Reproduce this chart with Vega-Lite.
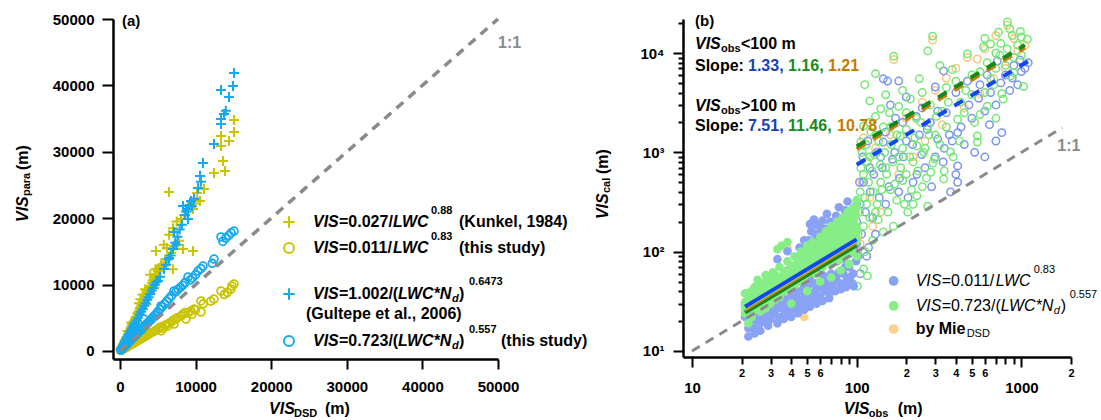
{
  "$schema": "https://vega.github.io/schema/vega-lite/v6.json",
  "padding": {"left": 14, "top": 12, "right": 0, "bottom": 0},
  "background": "white",
  "config": {
    "view": {"stroke": null},
    "font": "Liberation Sans",
    "text": {"font": "Liberation Sans", "color": "black"},
    "axis": {
      "grid": false,
      "domainColor": "black",
      "domainWidth": 2.5,
      "tickColor": "black",
      "tickWidth": 2,
      "labelFont": "Liberation Sans",
      "labelFontWeight": "bold",
      "labelFontSize": 15,
      "labelColor": "black",
      "labelFlush": false,
      "labelOverlap": false
    }
  },
  "datasets": {
    "kunkel": [
      {"x":100,"y":250},{"x":200,"y":480},{"x":300,"y":700},{"x":400,"y":980},{"x":500,"y":1150},{"x":600,"y":1500},{"x":700,"y":1650},{"x":800,"y":1950},{"x":900,"y":2100},{"x":1000,"y":2450},{"x":1000,"y":3000},{"x":1100,"y":2600},{"x":1200,"y":2950},{"x":1300,"y":3100},{"x":1400,"y":3400},{"x":1500,"y":3550},{"x":1500,"y":4300},{"x":1600,"y":3900},{"x":1700,"y":4100},{"x":1800,"y":4350},{"x":1900,"y":4500},{"x":2000,"y":4800},{"x":2000,"y":3800},{"x":2100,"y":5100},{"x":2200,"y":5200},{"x":2300,"y":5600},{"x":2400,"y":5800},{"x":2500,"y":6000},{"x":2500,"y":7200},{"x":2600,"y":6350},{"x":2700,"y":6500},{"x":2700,"y":7800},{"x":2800,"y":6800},{"x":2900,"y":7000},{"x":3000,"y":7300},{"x":3000,"y":8500},{"x":3100,"y":7400},{"x":3200,"y":7800},{"x":3300,"y":8000},{"x":3300,"y":9300},{"x":3400,"y":8200},{"x":3500,"y":8500},{"x":3500,"y":7000},{"x":3600,"y":8700},{"x":3700,"y":9000},{"x":3800,"y":9200},{"x":3900,"y":9500},{"x":4000,"y":9800},{"x":4000,"y":11500},{"x":4200,"y":10200},{"x":4300,"y":10600},{"x":4500,"y":11000},{"x":4500,"y":9500},{"x":4600,"y":11300},{"x":4800,"y":11600},{"x":5000,"y":12000},{"x":4700,"y":12300},{"x":5200,"y":12500},{"x":5400,"y":12800},{"x":5500,"y":13000},{"x":5800,"y":12800},{"x":6000,"y":13800},{"x":4760,"y":15060},{"x":5800,"y":16000},{"x":6200,"y":15500},{"x":6800,"y":14800},{"x":7000,"y":12300},{"x":7143,"y":15813},{"x":7800,"y":16600},{"x":8333,"y":15361},{"x":9656,"y":15060},{"x":6500,"y":17500},{"x":7000,"y":18500},{"x":7500,"y":19500},{"x":8069,"y":19880},{"x":8500,"y":20500},{"x":8700,"y":21000},{"x":9000,"y":21800},{"x":9656,"y":21386},{"x":9400,"y":22500},{"x":9800,"y":23000},{"x":9900,"y":22200},{"x":10200,"y":23800},{"x":10582,"y":22590},{"x":11111,"y":24397},{"x":6481,"y":23946},{"x":12434,"y":26807},{"x":13889,"y":27108},{"x":13624,"y":28614},{"x":13360,"y":30873},{"x":13360,"y":32380},{"x":14418,"y":31627},{"x":15079,"y":32982},{"x":15079,"y":34789}
    ],
    "gultepe": [
      {"x":100,"y":200},{"x":200,"y":420},{"x":300,"y":600},{"x":400,"y":850},{"x":500,"y":1000},{"x":600,"y":1250},{"x":700,"y":1450},{"x":800,"y":1700},{"x":900,"y":1850},{"x":1000,"y":2100},{"x":1100,"y":2250},{"x":1200,"y":2500},{"x":1300,"y":2700},{"x":1400,"y":2950},{"x":1500,"y":3100},{"x":1600,"y":3350},{"x":1700,"y":3500},{"x":1800,"y":3800},{"x":1900,"y":3950},{"x":2000,"y":4200},{"x":2200,"y":4600},{"x":2400,"y":5000},{"x":2600,"y":5500},{"x":2800,"y":5900},{"x":3000,"y":6300},{"x":3200,"y":6800},{"x":3400,"y":7200},{"x":3600,"y":7700},{"x":3800,"y":8100},{"x":4000,"y":8600},{"x":4200,"y":9100},{"x":4400,"y":9500},{"x":4600,"y":10000},{"x":4800,"y":10400},{"x":5026,"y":10542},{"x":5300,"y":11200},{"x":5820,"y":12349},{"x":6100,"y":13000},{"x":6400,"y":13800},{"x":6500,"y":14000},{"x":6700,"y":14400},{"x":7011,"y":15361},{"x":7500,"y":16000},{"x":7300,"y":16300},{"x":7600,"y":17200},{"x":7143,"y":17922},{"x":7900,"y":18300},{"x":8200,"y":19000},{"x":8600,"y":20500},{"x":8800,"y":21000},{"x":8995,"y":19880},{"x":9000,"y":21400},{"x":9200,"y":22000},{"x":8333,"y":21837},{"x":9400,"y":22600},{"x":9500,"y":21800},{"x":9788,"y":22892},{"x":10317,"y":24548},{"x":10582,"y":26355},{"x":10700,"y":25500},{"x":10979,"y":28313},{"x":12434,"y":31175},{"x":13360,"y":34187},{"x":13360,"y":34940},{"x":13757,"y":35693},{"x":14000,"y":36200},{"x":14418,"y":38253},{"x":13360,"y":39307},{"x":14947,"y":39910},{"x":15079,"y":41867}
    ],
    "oursLwc": [
      {"x":100,"y":70},{"x":200,"y":140},{"x":300,"y":210},{"x":400,"y":270},{"x":500,"y":340},{"x":600,"y":400},{"x":700,"y":470},{"x":800,"y":540},{"x":900,"y":600},{"x":1000,"y":660},{"x":1200,"y":800},{"x":1400,"y":930},{"x":1600,"y":1050},{"x":1800,"y":1200},{"x":2000,"y":1300},{"x":2200,"y":1450},{"x":2400,"y":1600},{"x":2600,"y":1700},{"x":2800,"y":1850},{"x":3000,"y":2000},{"x":3200,"y":2100},{"x":3400,"y":2250},{"x":3600,"y":2400},{"x":3800,"y":2500},{"x":4000,"y":2700},{"x":4200,"y":2800},{"x":4500,"y":2950},{"x":4700,"y":3100},{"x":5000,"y":3300},{"x":5423,"y":3012},{"x":5200,"y":3500},{"x":5500,"y":3700},{"x":5700,"y":3400},{"x":6000,"y":3900},{"x":6349,"y":3765},{"x":6500,"y":4200},{"x":6800,"y":4400},{"x":7143,"y":4066},{"x":7000,"y":4600},{"x":7300,"y":4800},{"x":7600,"y":5000},{"x":8069,"y":5271},{"x":8300,"y":5500},{"x":8730,"y":4819},{"x":8600,"y":5800},{"x":9000,"y":5700},{"x":9392,"y":6024},{"x":9788,"y":6325},{"x":9500,"y":5500},{"x":10000,"y":6200},{"x":10714,"y":5873},{"x":10714,"y":7530},{"x":11000,"y":7100},{"x":12434,"y":7831},{"x":12000,"y":7500},{"x":13360,"y":9036},{"x":14683,"y":9337},{"x":15079,"y":10090},{"x":14200,"y":8800},{"x":13800,"y":8500},{"x":14800,"y":9800}
    ],
    "oursNd": [
      {"x":100,"y":120},{"x":200,"y":230},{"x":300,"y":350},{"x":400,"y":460},{"x":500,"y":580},{"x":600,"y":690},{"x":700,"y":800},{"x":800,"y":920},{"x":900,"y":1030},{"x":1000,"y":1150},{"x":1200,"y":1380},{"x":1400,"y":1600},{"x":1600,"y":1840},{"x":1852,"y":2861},{"x":1800,"y":2050},{"x":2000,"y":2300},{"x":2200,"y":2550},{"x":2400,"y":2750},{"x":2600,"y":3000},{"x":2800,"y":3200},{"x":3000,"y":3450},{"x":3175,"y":4819},{"x":3200,"y":3700},{"x":3400,"y":3900},{"x":3600,"y":4150},{"x":3800,"y":4400},{"x":4000,"y":4600},{"x":4200,"y":4850},{"x":4400,"y":5100},{"x":4600,"y":5350},{"x":4800,"y":5600},{"x":5000,"y":5900},{"x":5423,"y":6777},{"x":5300,"y":6300},{"x":5600,"y":6700},{"x":5900,"y":7100},{"x":6200,"y":7500},{"x":6500,"y":7900},{"x":6800,"y":8300},{"x":7143,"y":9036},{"x":7400,"y":8900},{"x":7700,"y":9300},{"x":8000,"y":9600},{"x":8300,"y":9900},{"x":8600,"y":10300},{"x":8995,"y":11145},{"x":9300,"y":10700},{"x":9600,"y":11000},{"x":10000,"y":11500},{"x":10317,"y":12048},{"x":10979,"y":12801},{"x":10700,"y":12400},{"x":12434,"y":13855},{"x":12200,"y":13200},{"x":13360,"y":17169},{"x":13600,"y":16500},{"x":14000,"y":17000},{"x":14400,"y":17400},{"x":15079,"y":18072},{"x":14700,"y":17800}
    ],
    "oneToOneA": [{"x":0,"y":0},{"x":50000,"y":50000}],
    "oneToOneB": [{"x":10,"y":10},{"x":1770,"y":1770}],
    "fitLowBlue": [{"x":21,"y":27.93},{"x":100,"y":133}],
    "fitLowGreen": [{"x":21,"y":24.36},{"x":100,"y":116}],
    "fitLowOrange": [{"x":21,"y":25.41},{"x":100,"y":121}],
    "fitHighBlue": [{"x":100,"y":751},{"x":1130,"y":8486}],
    "fitHighGreen": [{"x":100,"y":1146},{"x":1050,"y":12033}],
    "fitHighOrange": [{"x":100,"y":1078},{"x":1050,"y":11319}],
    "fillBlue": [
      {"x":21,"y":22},{"x":21,"y":30},{"x":22,"y":14},{"x":22,"y":17},{"x":22,"y":26},{"x":22,"y":34},{"x":22,"y":38},{"x":23,"y":19},{"x":23,"y":24},{"x":23,"y":29},{"x":24,"y":15},{"x":24,"y":17},{"x":24,"y":21},{"x":24,"y":28},{"x":24,"y":36},{"x":25,"y":18},{"x":25,"y":25},{"x":25,"y":33},{"x":26,"y":16},{"x":26,"y":19},{"x":26,"y":23},{"x":26,"y":31},{"x":27,"y":20},{"x":27,"y":27},{"x":27,"y":33},{"x":27,"y":38},{"x":28,"y":20},{"x":28,"y":25},{"x":28,"y":34},{"x":29,"y":18},{"x":29,"y":22},{"x":29,"y":30},{"x":29,"y":42},{"x":30,"y":21},{"x":30,"y":27},{"x":30,"y":37},{"x":31,"y":24},{"x":31,"y":33},{"x":31,"y":42},{"x":32,"y":23},{"x":32,"y":30},{"x":32,"y":44},{"x":33,"y":19},{"x":33,"y":27},{"x":33,"y":38},{"x":33,"y":84},{"x":34,"y":22},{"x":34,"y":29},{"x":34,"y":36},{"x":35,"y":31},{"x":35,"y":38},{"x":35,"y":48},{"x":36,"y":21},{"x":36,"y":26},{"x":36,"y":42},{"x":36,"y":55},{"x":37,"y":24},{"x":37,"y":33},{"x":37,"y":55},{"x":38,"y":30},{"x":38,"y":40},{"x":38,"y":101},{"x":39,"y":28},{"x":39,"y":47},{"x":40,"y":22},{"x":40,"y":26},{"x":40,"y":35},{"x":40,"y":60},{"x":41,"y":31},{"x":41,"y":50},{"x":42,"y":28},{"x":42,"y":42},{"x":42,"y":70},{"x":43,"y":35},{"x":43,"y":58},{"x":44,"y":24},{"x":44,"y":30},{"x":44,"y":52},{"x":45,"y":30},{"x":45,"y":62},{"x":45,"y":110},{"x":46,"y":28},{"x":46,"y":40},{"x":47,"y":50},{"x":47,"y":80},{"x":48,"y":26},{"x":48,"y":34},{"x":48,"y":45},{"x":48,"y":130},{"x":49,"y":60},{"x":50,"y":30},{"x":50,"y":42},{"x":50,"y":95},{"x":51,"y":130},{"x":52,"y":28},{"x":52,"y":36},{"x":52,"y":55},{"x":52,"y":190},{"x":53,"y":48},{"x":53,"y":160},{"x":54,"y":38},{"x":54,"y":70},{"x":55,"y":32},{"x":55,"y":125},{"x":55,"y":210},{"x":56,"y":48},{"x":56,"y":150},{"x":57,"y":30},{"x":57,"y":42},{"x":57,"y":185},{"x":58,"y":36},{"x":58,"y":62},{"x":59,"y":150},{"x":60,"y":35},{"x":60,"y":78},{"x":60,"y":120},{"x":60,"y":180},{"x":61,"y":45},{"x":62,"y":32},{"x":62,"y":58},{"x":62,"y":205},{"x":63,"y":95},{"x":64,"y":40},{"x":64,"y":56},{"x":64,"y":170},{"x":65,"y":140},{"x":66,"y":48},{"x":66,"y":110},{"x":66,"y":240},{"x":67,"y":42},{"x":68,"y":34},{"x":68,"y":38},{"x":68,"y":85},{"x":69,"y":200},{"x":70,"y":60},{"x":70,"y":125},{"x":71,"y":45},{"x":72,"y":100},{"x":73,"y":50},{"x":74,"y":40},{"x":74,"y":150},{"x":75,"y":55},{"x":75,"y":230},{"x":76,"y":80},{"x":77,"y":120},{"x":78,"y":62},{"x":78,"y":280},{"x":79,"y":48},{"x":80,"y":42},{"x":80,"y":105},{"x":81,"y":170},{"x":82,"y":85},{"x":83,"y":60},{"x":84,"y":130},{"x":85,"y":70},{"x":85,"y":260},{"x":86,"y":44},{"x":86,"y":190},{"x":87,"y":52},{"x":88,"y":110},{"x":88,"y":320},{"x":89,"y":150},{"x":90,"y":70},{"x":90,"y":95},{"x":91,"y":55},{"x":92,"y":230},{"x":93,"y":130},{"x":94,"y":48},{"x":95,"y":60},{"x":95,"y":170},{"x":96,"y":45},{"x":96,"y":110},{"x":97,"y":260},{"x":98,"y":100},{"x":98,"y":140},{"x":99,"y":80},{"x":100,"y":120},{"x":100,"y":300}
    ],
    "fillGreen": [
      {"x":21,"y":24},{"x":21,"y":28},{"x":21,"y":31},{"x":21,"y":38},{"x":22,"y":19},{"x":22,"y":27},{"x":22,"y":31},{"x":22,"y":35},{"x":23,"y":22},{"x":23,"y":30},{"x":23,"y":35},{"x":23,"y":40},{"x":24,"y":26},{"x":24,"y":33},{"x":24,"y":38},{"x":24,"y":44},{"x":25,"y":28},{"x":25,"y":37},{"x":25,"y":45},{"x":25,"y":52},{"x":26,"y":25},{"x":26,"y":33},{"x":26,"y":40},{"x":26,"y":46},{"x":27,"y":30},{"x":27,"y":35},{"x":27,"y":40},{"x":28,"y":27},{"x":28,"y":36},{"x":28,"y":44},{"x":28,"y":50},{"x":28,"y":58},{"x":29,"y":32},{"x":29,"y":37},{"x":29,"y":41},{"x":30,"y":30},{"x":30,"y":38},{"x":30,"y":46},{"x":30,"y":52},{"x":31,"y":35},{"x":31,"y":40},{"x":31,"y":45},{"x":31,"y":62},{"x":32,"y":33},{"x":32,"y":42},{"x":32,"y":58},{"x":33,"y":38},{"x":33,"y":45},{"x":33,"y":50},{"x":33,"y":106},{"x":34,"y":35},{"x":34,"y":46},{"x":34,"y":55},{"x":34,"y":70},{"x":35,"y":40},{"x":35,"y":55},{"x":35,"y":115},{"x":36,"y":44},{"x":36,"y":52},{"x":36,"y":60},{"x":37,"y":40},{"x":37,"y":50},{"x":37,"y":62},{"x":38,"y":46},{"x":38,"y":65},{"x":38,"y":80},{"x":38,"y":125},{"x":39,"y":43},{"x":39,"y":55},{"x":40,"y":30},{"x":40,"y":48},{"x":40,"y":58},{"x":40,"y":72},{"x":41,"y":52},{"x":41,"y":65},{"x":42,"y":46},{"x":42,"y":54},{"x":42,"y":60},{"x":42,"y":90},{"x":43,"y":55},{"x":43,"y":75},{"x":44,"y":50},{"x":44,"y":64},{"x":44,"y":70},{"x":45,"y":58},{"x":45,"y":85},{"x":46,"y":54},{"x":46,"y":62},{"x":46,"y":70},{"x":46,"y":100},{"x":47,"y":62},{"x":47,"y":95},{"x":48,"y":56},{"x":48,"y":68},{"x":48,"y":75},{"x":49,"y":65},{"x":50,"y":40},{"x":50,"y":60},{"x":50,"y":72},{"x":50,"y":80},{"x":50,"y":115},{"x":51,"y":70},{"x":51,"y":105},{"x":52,"y":62},{"x":52,"y":78},{"x":52,"y":88},{"x":53,"y":74},{"x":54,"y":66},{"x":54,"y":95},{"x":54,"y":125},{"x":55,"y":78},{"x":55,"y":88},{"x":56,"y":60},{"x":56,"y":70},{"x":56,"y":110},{"x":57,"y":82},{"x":57,"y":95},{"x":58,"y":75},{"x":58,"y":120},{"x":59,"y":80},{"x":59,"y":90},{"x":60,"y":50},{"x":60,"y":80},{"x":60,"y":100},{"x":60,"y":140},{"x":61,"y":72},{"x":61,"y":92},{"x":62,"y":70},{"x":62,"y":88},{"x":62,"y":130},{"x":63,"y":95},{"x":63,"y":115},{"x":64,"y":82},{"x":65,"y":80},{"x":65,"y":105},{"x":65,"y":160},{"x":66,"y":90},{"x":66,"y":140},{"x":67,"y":100},{"x":67,"y":125},{"x":68,"y":88},{"x":68,"y":120},{"x":69,"y":110},{"x":70,"y":55},{"x":70,"y":75},{"x":70,"y":95},{"x":70,"y":150},{"x":70,"y":180},{"x":71,"y":110},{"x":72,"y":85},{"x":72,"y":100},{"x":73,"y":130},{"x":74,"y":105},{"x":74,"y":140},{"x":75,"y":165},{"x":76,"y":118},{"x":76,"y":200},{"x":77,"y":100},{"x":77,"y":150},{"x":78,"y":82},{"x":78,"y":140},{"x":79,"y":95},{"x":79,"y":115},{"x":80,"y":65},{"x":80,"y":125},{"x":80,"y":180},{"x":81,"y":140},{"x":82,"y":110},{"x":82,"y":150},{"x":82,"y":220},{"x":83,"y":170},{"x":84,"y":130},{"x":85,"y":100},{"x":85,"y":200},{"x":86,"y":90},{"x":86,"y":120},{"x":87,"y":160},{"x":88,"y":135},{"x":88,"y":180},{"x":88,"y":250},{"x":89,"y":110},{"x":90,"y":75},{"x":90,"y":150},{"x":90,"y":220},{"x":91,"y":120},{"x":92,"y":130},{"x":93,"y":175},{"x":93,"y":210},{"x":94,"y":100},{"x":94,"y":150},{"x":94,"y":270},{"x":95,"y":120},{"x":95,"y":180},{"x":96,"y":200},{"x":97,"y":130},{"x":97,"y":160},{"x":98,"y":140},{"x":98,"y":250},{"x":99,"y":180},{"x":99,"y":230},{"x":100,"y":90},{"x":100,"y":130},{"x":100,"y":160},{"x":100,"y":280},{"x":100,"y":330}
    ],
    "fillOrange": [
      {"x":21,"y":26},{"x":22,"y":21},{"x":23,"y":28},{"x":24,"y":30},{"x":26,"y":34},{"x":28,"y":32},{"x":30,"y":40},{"x":33,"y":42},{"x":36,"y":48},{"x":38,"y":110},{"x":40,"y":52},{"x":44,"y":56},{"x":48,"y":22},{"x":50,"y":64},{"x":55,"y":70},{"x":60,"y":76},{"x":65,"y":88},{"x":70,"y":90},{"x":75,"y":100},{"x":80,"y":110},{"x":85,"y":105},{"x":90,"y":120},{"x":95,"y":130},{"x":100,"y":140}
    ],
    "openGreen": [
      {"x":822,"y":20500},{"x":726,"y":16200},{"x":986,"y":16500},{"x":649,"y":12300},{"x":1087,"y":13800},{"x":289,"y":14800},{"x":270,"y":10500},{"x":168,"y":9300},{"x":470,"y":9800},{"x":588,"y":11500},{"x":860,"y":5870},{"x":1030,"y":4600},{"x":775,"y":3440},{"x":620,"y":2910},{"x":428,"y":3200},{"x":212,"y":3440},{"x":140,"y":2740},{"x":110,"y":1840},{"x":106,"y":1270},{"x":270,"y":1840},{"x":410,"y":2150},{"x":540,"y":1460},{"x":232,"y":1160},{"x":184,"y":1460},{"x":540,"y":1270},{"x":296,"y":860},{"x":371,"y":1010},{"x":282,"y":630},{"x":337,"y":540},{"x":232,"y":365},{"x":500,"y":6000},{"x":700,"y":7000},{"x":900,"y":9000},{"x":400,"y":5200},{"x":350,"y":4500},{"x":250,"y":4000},{"x":200,"y":2500},{"x":160,"y":1800},{"x":130,"y":1500},{"x":120,"y":900},{"x":150,"y":700},{"x":180,"y":900},{"x":220,"y":800},{"x":260,"y":1100},{"x":300,"y":1500},{"x":350,"y":1800},{"x":450,"y":2500},{"x":600,"y":4000},{"x":800,"y":7500},{"x":950,"y":12000},{"x":1000,"y":9500},{"x":880,"y":15000},{"x":700,"y":10000},{"x":600,"y":14000},{"x":380,"y":6800},{"x":320,"y":7500},{"x":240,"y":5500},{"x":190,"y":4200},{"x":150,"y":3800},{"x":120,"y":2000},{"x":110,"y":600},{"x":105,"y":400},{"x":115,"y":300},{"x":130,"y":250},{"x":140,"y":500},{"x":160,"y":420},{"x":200,"y":600},{"x":220,"y":300},{"x":250,"y":450},{"x":270,"y":287},{"x":204,"y":250},{"x":167,"y":180},{"x":145,"y":158},{"x":116,"y":57},{"x":110,"y":67},{"x":101,"y":45},{"x":112,"y":100},{"x":125,"y":130},{"x":135,"y":210},{"x":175,"y":330},{"x":190,"y":520},{"x":230,"y":2200},{"x":280,"y":3000},{"x":330,"y":2600},{"x":500,"y":3800},{"x":650,"y":5500},{"x":750,"y":12500},{"x":120,"y":3300},{"x":112,"y":4800},{"x":130,"y":6200},
      {"x":102,"y":150},{"x":104,"y":250},{"x":106,"y":700},{"x":108,"y":1000},{"x":110,"y":180},{"x":112,"y":350},{"x":114,"y":1200},{"x":116,"y":800},{"x":118,"y":500},{"x":120,"y":220},{"x":122,"y":1600},{"x":124,"y":650},{"x":126,"y":400},{"x":128,"y":950},{"x":130,"y":2300},{"x":133,"y":300},{"x":136,"y":1300},{"x":139,"y":750},{"x":142,"y":420},{"x":145,"y":1800},{"x":148,"y":1000},{"x":152,"y":600},{"x":155,"y":250},{"x":158,"y":2500},{"x":162,"y":1200},{"x":166,"y":800},{"x":170,"y":480},{"x":175,"y":1500},{"x":180,"y":2900},{"x":185,"y":700},{"x":190,"y":1100},{"x":195,"y":300},{"x":200,"y":1700},{"x":210,"y":900},{"x":215,"y":420},{"x":225,"y":1400},{"x":235,"y":650},{"x":245,"y":2000},{"x":255,"y":1000},{"x":265,"y":550},{"x":275,"y":1500},{"x":290,"y":780},{"x":305,"y":2300},{"x":320,"y":1200},{"x":340,"y":650},{"x":360,"y":3200},{"x":385,"y":900},{"x":420,"y":1300},{"x":460,"y":4200},{"x":520,"y":2000},{"x":560,"y":6500},{"x":620,"y":8000},{"x":680,"y":4800},{"x":740,"y":9500},{"x":820,"y":11000},{"x":900,"y":6300},{"x":1000,"y":14500},{"x":850,"y":17500},{"x":560,"y":2400},{"x":700,"y":2200},{"x":760,"y":3900}
    ],
    "openBlue": [
      {"x":713,"y":8300},{"x":154,"y":5220},{"x":180,"y":5220},{"x":300,"y":4550},{"x":337,"y":6600},{"x":760,"y":1580},{"x":410,"y":1580},{"x":145,"y":1270},{"x":310,"y":1360},{"x":410,"y":730},{"x":371,"y":400},{"x":410,"y":500},{"x":1100,"y":8000},{"x":1000,"y":6500},{"x":900,"y":7500},{"x":800,"y":6000},{"x":650,"y":4000},{"x":550,"y":3500},{"x":470,"y":5200},{"x":400,"y":4000},{"x":350,"y":2500},{"x":280,"y":2000},{"x":240,"y":1500},{"x":200,"y":1300},{"x":170,"y":1000},{"x":140,"y":900},{"x":120,"y":700},{"x":110,"y":500},{"x":105,"y":300},{"x":100,"y":200},{"x":125,"y":220},{"x":150,"y":300},{"x":180,"y":400},{"x":220,"y":500},{"x":260,"y":700},{"x":300,"y":900},{"x":340,"y":1100},{"x":380,"y":1300},{"x":430,"y":1800},{"x":500,"y":2200},{"x":600,"y":2600},{"x":700,"y":3000},{"x":850,"y":4200},{"x":950,"y":4800},{"x":1050,"y":7000},{"x":145,"y":5500},{"x":160,"y":3000},{"x":200,"y":3600},{"x":250,"y":2800},{"x":115,"y":90},{"x":105,"y":60},{"x":118,"y":110},{"x":130,"y":150},{"x":600,"y":900},{"x":700,"y":1300},{"x":520,"y":1000},{"x":640,"y":1900},{"x":230,"y":2300},{"x":190,"y":2000},
      {"x":102,"y":90},{"x":104,"y":500},{"x":107,"y":150},{"x":109,"y":900},{"x":113,"y":250},{"x":117,"y":1300},{"x":121,"y":400},{"x":127,"y":600},{"x":132,"y":1000},{"x":137,"y":350},{"x":143,"y":700},{"x":150,"y":1600},{"x":157,"y":450},{"x":165,"y":850},{"x":172,"y":2200},{"x":182,"y":550},{"x":192,"y":900},{"x":205,"y":350},{"x":218,"y":1200},{"x":232,"y":600},{"x":248,"y":950},{"x":268,"y":1700},{"x":285,"y":450},{"x":310,"y":2600},{"x":335,"y":800},{"x":365,"y":1500},{"x":400,"y":600},{"x":450,"y":1200},{"x":480,"y":3000},{"x":560,"y":4800},{"x":620,"y":6000},{"x":750,"y":5000},{"x":880,"y":5600},{"x":980,"y":8500}
    ],
    "openOrange": [
      {"x":168,"y":8600},{"x":289,"y":13500},{"x":822,"y":19000},{"x":700,"y":15000},{"x":540,"y":8700},{"x":470,"y":9000},{"x":400,"y":7000},{"x":300,"y":4200},{"x":250,"y":3200},{"x":200,"y":2200},{"x":160,"y":1500},{"x":130,"y":1100},{"x":115,"y":800},{"x":108,"y":500},{"x":120,"y":350},{"x":140,"y":250},{"x":180,"y":600},{"x":220,"y":900},{"x":260,"y":1300},{"x":330,"y":1900},{"x":450,"y":2800},{"x":560,"y":3900},{"x":680,"y":5500},{"x":800,"y":7000},{"x":950,"y":10500},{"x":1050,"y":12000},{"x":900,"y":14000},{"x":600,"y":11000},{"x":350,"y":5600},{"x":110,"y":1400},{"x":105,"y":120},{"x":125,"y":180}
    ]
  },
  "spacing": 185,
  "bounds": "flush",
  "hconcat": [
    {
      "width": 385,
      "height": 340,
      "data": {"values": [{}]},
      "resolve": {"axis": {"x": "independent", "y": "independent"}},
      "layer": [
        {
          "encoding": {
            "x": {"field": "x", "type": "quantitative",
              "scale": {"domain": [-926, 50000], "nice": false, "zero": false},
              "axis": {"orient": "bottom", "values": [0, 10000, 20000, 30000, 40000, 50000], "format": "d", "tickSize": 10, "labelPadding": 10, "title": null}},
            "y": {"field": "y", "type": "quantitative",
              "scale": {"domain": [-1205, 50000], "nice": false, "zero": false},
              "axis": {"orient": "left", "values": [0, 10000, 20000, 30000, 40000, 50000], "format": "d", "tickSize": 11, "labelPadding": 8, "title": null}}
          },
          "layer": [
            {"data": {"name": "kunkel"}, "mark": {"type": "point", "shape": "M-1,0H1M0,-1V1", "filled": false, "size": 100, "strokeWidth": 2, "color": "#c9c400", "opacity": 1}},
            {"data": {"name": "gultepe"}, "mark": {"type": "point", "shape": "M-1,0H1M0,-1V1", "filled": false, "size": 100, "strokeWidth": 2, "color": "#16a9ef", "opacity": 1}},
            {"data": {"name": "oursLwc"}, "mark": {"type": "point", "shape": "circle", "filled": false, "size": 60, "strokeWidth": 1.8, "color": "#c9c400", "opacity": 1}},
            {"data": {"name": "oursNd"}, "mark": {"type": "point", "shape": "circle", "filled": false, "size": 60, "strokeWidth": 1.8, "color": "#16a9ef", "opacity": 1}},
            {"data": {"name": "oneToOneA"}, "mark": {"type": "line", "color": "#8a8a8a", "strokeWidth": 3.5, "strokeDash": [9, 7]}}
          ]
        },

        {"mark": {"type": "point", "shape": "M-1,0H1M0,-1V1", "filled": false, "size": 130, "strokeWidth": 2, "color": "#c9c400", "opacity": 1}, "encoding": {"x": {"datum": 22355, "axis": null}, "y": {"datum": 19427, "axis": null}}},
        {"mark": {"type": "point", "shape": "circle", "filled": false, "size": 100, "strokeWidth": 2, "color": "#c9c400", "opacity": 1}, "encoding": {"x": {"datum": 22355, "axis": null}, "y": {"datum": 15512, "axis": null}}},
        {"mark": {"type": "point", "shape": "M-1,0H1M0,-1V1", "filled": false, "size": 130, "strokeWidth": 2, "color": "#16a9ef", "opacity": 1}, "encoding": {"x": {"datum": 22355, "axis": null}, "y": {"datum": 8584, "axis": null}}},
        {"mark": {"type": "point", "shape": "circle", "filled": false, "size": 100, "strokeWidth": 2, "color": "#16a9ef", "opacity": 1}, "encoding": {"x": {"datum": 22355, "axis": null}, "y": {"datum": 1506, "axis": null}}},

        {"mark": {"type": "text", "text": "VIS", "align": "left", "baseline": "middle", "fontSize": 16, "fontWeight": "bold", "fontStyle": "italic"}, "encoding": {"x": {"datum": 25530, "axis": null}, "y": {"datum": 19427, "axis": null}}},
        {"mark": {"type": "text", "text": "=0.027/", "align": "left", "baseline": "middle", "fontSize": 16, "fontWeight": "bold", "dx": 26}, "encoding": {"x": {"datum": 25530, "axis": null}, "y": {"datum": 19427, "axis": null}}},
        {"mark": {"type": "text", "text": "LWC", "align": "left", "baseline": "middle", "fontSize": 16, "fontWeight": "bold", "fontStyle": "italic", "dx": 80}, "encoding": {"x": {"datum": 25530, "axis": null}, "y": {"datum": 19427, "axis": null}}},
        {"mark": {"type": "text", "text": "0.88", "align": "left", "baseline": "middle", "fontSize": 11, "fontWeight": "bold", "dx": 118, "dy": -11}, "encoding": {"x": {"datum": 25530, "axis": null}, "y": {"datum": 19427, "axis": null}}},
        {"mark": {"type": "text", "text": "(Kunkel, 1984)", "align": "left", "baseline": "middle", "fontSize": 16, "fontWeight": "bold", "dx": 146}, "encoding": {"x": {"datum": 25530, "axis": null}, "y": {"datum": 19427, "axis": null}}},

        {"mark": {"type": "text", "text": "VIS", "align": "left", "baseline": "middle", "fontSize": 16, "fontWeight": "bold", "fontStyle": "italic"}, "encoding": {"x": {"datum": 25530, "axis": null}, "y": {"datum": 15512, "axis": null}}},
        {"mark": {"type": "text", "text": "=0.011/", "align": "left", "baseline": "middle", "fontSize": 16, "fontWeight": "bold", "dx": 26}, "encoding": {"x": {"datum": 25530, "axis": null}, "y": {"datum": 15512, "axis": null}}},
        {"mark": {"type": "text", "text": "LWC", "align": "left", "baseline": "middle", "fontSize": 16, "fontWeight": "bold", "fontStyle": "italic", "dx": 80}, "encoding": {"x": {"datum": 25530, "axis": null}, "y": {"datum": 15512, "axis": null}}},
        {"mark": {"type": "text", "text": "0.83", "align": "left", "baseline": "middle", "fontSize": 11, "fontWeight": "bold", "dx": 118, "dy": -11}, "encoding": {"x": {"datum": 25530, "axis": null}, "y": {"datum": 15512, "axis": null}}},
        {"mark": {"type": "text", "text": "(this study)", "align": "left", "baseline": "middle", "fontSize": 16, "fontWeight": "bold", "dx": 146}, "encoding": {"x": {"datum": 25530, "axis": null}, "y": {"datum": 15512, "axis": null}}},

        {"mark": {"type": "text", "text": "VIS", "align": "left", "baseline": "middle", "fontSize": 16, "fontWeight": "bold", "fontStyle": "italic"}, "encoding": {"x": {"datum": 25530, "axis": null}, "y": {"datum": 8584, "axis": null}}},
        {"mark": {"type": "text", "text": "=1.002/(", "align": "left", "baseline": "middle", "fontSize": 16, "fontWeight": "bold", "dx": 26}, "encoding": {"x": {"datum": 25530, "axis": null}, "y": {"datum": 8584, "axis": null}}},
        {"mark": {"type": "text", "text": "LWC*N", "align": "left", "baseline": "middle", "fontSize": 16, "fontWeight": "bold", "fontStyle": "italic", "dx": 85}, "encoding": {"x": {"datum": 25530, "axis": null}, "y": {"datum": 8584, "axis": null}}},
        {"mark": {"type": "text", "text": "d", "align": "left", "baseline": "middle", "fontSize": 11, "fontWeight": "bold", "fontStyle": "italic", "dx": 139, "dy": 5}, "encoding": {"x": {"datum": 25530, "axis": null}, "y": {"datum": 8584, "axis": null}}},
        {"mark": {"type": "text", "text": ")", "align": "left", "baseline": "middle", "fontSize": 16, "fontWeight": "bold", "dx": 146}, "encoding": {"x": {"datum": 25530, "axis": null}, "y": {"datum": 8584, "axis": null}}},
        {"mark": {"type": "text", "text": "0.6473", "align": "left", "baseline": "middle", "fontSize": 11, "fontWeight": "bold", "dx": 156, "dy": -12}, "encoding": {"x": {"datum": 25530, "axis": null}, "y": {"datum": 8584, "axis": null}}},
        {"mark": {"type": "text", "text": "(Gultepe et al., 2006)", "align": "left", "baseline": "middle", "fontSize": 16, "fontWeight": "bold", "dx": -7}, "encoding": {"x": {"datum": 25530, "axis": null}, "y": {"datum": 5572, "axis": null}}},

        {"mark": {"type": "text", "text": "VIS", "align": "left", "baseline": "middle", "fontSize": 16, "fontWeight": "bold", "fontStyle": "italic"}, "encoding": {"x": {"datum": 25530, "axis": null}, "y": {"datum": 1506, "axis": null}}},
        {"mark": {"type": "text", "text": "=0.723/(", "align": "left", "baseline": "middle", "fontSize": 16, "fontWeight": "bold", "dx": 26}, "encoding": {"x": {"datum": 25530, "axis": null}, "y": {"datum": 1506, "axis": null}}},
        {"mark": {"type": "text", "text": "LWC*N", "align": "left", "baseline": "middle", "fontSize": 16, "fontWeight": "bold", "fontStyle": "italic", "dx": 85}, "encoding": {"x": {"datum": 25530, "axis": null}, "y": {"datum": 1506, "axis": null}}},
        {"mark": {"type": "text", "text": "d", "align": "left", "baseline": "middle", "fontSize": 11, "fontWeight": "bold", "fontStyle": "italic", "dx": 139, "dy": 5}, "encoding": {"x": {"datum": 25530, "axis": null}, "y": {"datum": 1506, "axis": null}}},
        {"mark": {"type": "text", "text": ")", "align": "left", "baseline": "middle", "fontSize": 16, "fontWeight": "bold", "dx": 146}, "encoding": {"x": {"datum": 25530, "axis": null}, "y": {"datum": 1506, "axis": null}}},
        {"mark": {"type": "text", "text": "0.557", "align": "left", "baseline": "middle", "fontSize": 11, "fontWeight": "bold", "dx": 156, "dy": -11}, "encoding": {"x": {"datum": 25530, "axis": null}, "y": {"datum": 1506, "axis": null}}},
        {"mark": {"type": "text", "text": "(this study)", "align": "left", "baseline": "middle", "fontSize": 16, "fontWeight": "bold", "dx": 188}, "encoding": {"x": {"datum": 25530, "axis": null}, "y": {"datum": 1506, "axis": null}}},

        {"mark": {"type": "text", "text": "(a)", "align": "left", "baseline": "middle", "fontSize": 15, "fontWeight": "bold"}, "encoding": {"x": {"datum": 265, "axis": null}, "y": {"datum": 49698, "axis": null}}},
        {"mark": {"type": "text", "text": "1:1", "align": "left", "baseline": "middle", "fontSize": 16, "fontWeight": "bold", "color": "#8a8a8a"}, "encoding": {"x": {"datum": 50000, "axis": null}, "y": {"datum": 46385, "axis": null}}},

        {"mark": {"type": "text", "text": "VIS", "align": "left", "baseline": "middle", "fontSize": 16, "fontWeight": "bold", "fontStyle": "italic"}, "encoding": {"x": {"datum": 19710, "axis": null}, "y": {"datum": -8735, "axis": null}}},
        {"mark": {"type": "text", "text": "DSD", "align": "left", "baseline": "middle", "fontSize": 11, "fontWeight": "bold", "dx": 25, "dy": 5}, "encoding": {"x": {"datum": 19710, "axis": null}, "y": {"datum": -8735, "axis": null}}},
        {"mark": {"type": "text", "text": "(m)", "align": "left", "baseline": "middle", "fontSize": 16, "fontWeight": "bold", "dx": 56}, "encoding": {"x": {"datum": 19710, "axis": null}, "y": {"datum": -8735, "axis": null}}},

        {"mark": {"type": "text", "text": "VIS", "align": "left", "baseline": "middle", "angle": 270, "fontSize": 16, "fontWeight": "bold", "fontStyle": "italic"}, "encoding": {"x": {"datum": -12831, "axis": null}, "y": {"datum": 19427, "axis": null}}},
        {"mark": {"type": "text", "text": "para", "align": "left", "baseline": "middle", "angle": 270, "fontSize": 11, "fontWeight": "bold", "dx": 26, "dy": 4}, "encoding": {"x": {"datum": -12831, "axis": null}, "y": {"datum": 19427, "axis": null}}},
        {"mark": {"type": "text", "text": "(m)", "align": "left", "baseline": "middle", "angle": 270, "fontSize": 16, "fontWeight": "bold", "dx": 52}, "encoding": {"x": {"datum": -12831, "axis": null}, "y": {"datum": 19427, "axis": null}}}
      ]
    },
    {
      "width": 388,
      "height": 338,
      "data": {"values": [{}]},
      "resolve": {"axis": {"x": "independent", "y": "independent"}},
      "layer": [
        {
          "encoding": {
            "x": {"field": "x", "type": "quantitative",
              "scale": {"type": "log", "domain": [8.82, 2000], "nice": false},
              "axis": {"orient": "bottom", "values": [10, 100, 1000], "format": "d", "tickSize": 10, "labelPadding": 13, "title": null}},
            "y": {"field": "y", "type": "quantitative",
              "scale": {"type": "log", "domain": [8.7, 22000], "nice": false},
              "axis": {"orient": "left", "values": [10, 100, 1000, 10000], "tickSize": 10, "labelPadding": 9, "title": null,
                "labelExpr": "'10' + ['⁰','¹','²','³','⁴'][round(log(datum.value) / LN10)]"}}
          },
          "layer": [
            {"data": {"name": "openOrange"}, "mark": {"type": "point", "shape": "circle", "filled": false, "size": 55, "strokeWidth": 1.5, "color": "#fcc47c", "opacity": 1}},
            {"data": {"name": "openBlue"}, "mark": {"type": "point", "shape": "circle", "filled": false, "size": 55, "strokeWidth": 1.5, "color": "#7c95f0", "opacity": 1}},
            {"data": {"name": "openGreen"}, "mark": {"type": "point", "shape": "circle", "filled": false, "size": 55, "strokeWidth": 1.5, "color": "#74e874", "opacity": 1}},
            {"data": {"name": "fillOrange"}, "mark": {"type": "point", "shape": "circle", "filled": true, "size": 75, "color": "#fdd08c", "opacity": 1}},
            {"data": {"name": "fillBlue"}, "mark": {"type": "point", "shape": "circle", "filled": true, "size": 75, "color": "#8aa2f5", "opacity": 1}},
            {"data": {"name": "fillGreen"}, "mark": {"type": "point", "shape": "circle", "filled": true, "size": 75, "color": "#86ee86", "opacity": 1}},
            {"data": {"name": "fitLowBlue"}, "mark": {"type": "line", "color": "#1446f0", "strokeWidth": 4}},
            {"data": {"name": "fitLowGreen"}, "mark": {"type": "line", "color": "#18861a", "strokeWidth": 4}},
            {"data": {"name": "fitLowOrange"}, "mark": {"type": "line", "color": "#d98a10", "strokeWidth": 1.5}},
            {"data": {"name": "fitHighBlue"}, "mark": {"type": "line", "color": "#1446f0", "strokeWidth": 4, "strokeDash": [10, 9]}},
            {"data": {"name": "fitHighOrange"}, "mark": {"type": "line", "color": "#c98010", "strokeWidth": 4, "strokeDash": [10, 9]}},
            {"data": {"name": "fitHighGreen"}, "mark": {"type": "line", "color": "#18861a", "strokeWidth": 4, "strokeDash": [10, 9]}}
          ]
        },
        {
          "data": {"name": "oneToOneB"},
          "mark": {"type": "line", "color": "#8a8a8a", "strokeWidth": 3, "strokeDash": [9, 7]},
          "encoding": {
            "x": {"field": "x", "type": "quantitative",
              "axis": {"orient": "bottom", "values": [20, 30, 40, 50, 60, 70, 80, 90, 200, 300, 400, 500, 600, 700, 800, 900, 2000], "tickSize": 7, "labelPadding": 3, "labelFontSize": 11, "domain": false, "title": null,
                "labelExpr": "(datum.value < 70 || (datum.value >= 200 && datum.value < 700) || datum.value == 2000) ? '' + round(datum.value / pow(10, floor(log(datum.value) / LN10 + 0.000001))) : ''"}},
            "y": {"field": "y", "type": "quantitative",
              "axis": {"orient": "left", "values": [20, 30, 40, 50, 60, 70, 80, 90, 200, 300, 400, 500, 600, 700, 800, 900, 2000, 3000, 4000, 5000, 6000, 7000, 8000, 9000, 20000], "tickSize": 5, "labels": false, "domain": false, "title": null}}
          }
        },

        {"mark": {"type": "point", "shape": "circle", "filled": true, "size": 95, "color": "#8aa2f5", "opacity": 1}, "encoding": {"x": {"datum": 167.6, "axis": null}, "y": {"datum": 50.7, "axis": null}}},
        {"mark": {"type": "point", "shape": "circle", "filled": true, "size": 95, "color": "#86ee86", "opacity": 1}, "encoding": {"x": {"datum": 167.6, "axis": null}, "y": {"datum": 28.4, "axis": null}}},
        {"mark": {"type": "point", "shape": "circle", "filled": true, "size": 95, "color": "#fdd08c", "opacity": 1}, "encoding": {"x": {"datum": 167.6, "axis": null}, "y": {"datum": 16.65, "axis": null}}},

        {"mark": {"type": "text", "text": "VIS", "align": "left", "baseline": "middle", "fontSize": 16, "fontStyle": "italic"}, "encoding": {"x": {"datum": 227.9, "axis": null}, "y": {"datum": 50.7, "axis": null}}},
        {"mark": {"type": "text", "text": "=0.011/", "align": "left", "baseline": "middle", "fontSize": 16, "dx": 26}, "encoding": {"x": {"datum": 227.9, "axis": null}, "y": {"datum": 50.7, "axis": null}}},
        {"mark": {"type": "text", "text": "LWC", "align": "left", "baseline": "middle", "fontSize": 16, "fontStyle": "italic", "dx": 80}, "encoding": {"x": {"datum": 227.9, "axis": null}, "y": {"datum": 50.7, "axis": null}}},
        {"mark": {"type": "text", "text": "0.83", "align": "left", "baseline": "middle", "fontSize": 11, "dx": 118, "dy": -11}, "encoding": {"x": {"datum": 227.9, "axis": null}, "y": {"datum": 50.7, "axis": null}}},
        {"mark": {"type": "text", "text": "VIS", "align": "left", "baseline": "middle", "fontSize": 16, "fontStyle": "italic"}, "encoding": {"x": {"datum": 227.9, "axis": null}, "y": {"datum": 28.4, "axis": null}}},
        {"mark": {"type": "text", "text": "=0.723/(", "align": "left", "baseline": "middle", "fontSize": 16, "dx": 26}, "encoding": {"x": {"datum": 227.9, "axis": null}, "y": {"datum": 28.4, "axis": null}}},
        {"mark": {"type": "text", "text": "LWC*N", "align": "left", "baseline": "middle", "fontSize": 16, "fontStyle": "italic", "dx": 85}, "encoding": {"x": {"datum": 227.9, "axis": null}, "y": {"datum": 28.4, "axis": null}}},
        {"mark": {"type": "text", "text": "d", "align": "left", "baseline": "middle", "fontSize": 11, "fontStyle": "italic", "dx": 138, "dy": 5}, "encoding": {"x": {"datum": 227.9, "axis": null}, "y": {"datum": 28.4, "axis": null}}},
        {"mark": {"type": "text", "text": ")", "align": "left", "baseline": "middle", "fontSize": 16, "dx": 145}, "encoding": {"x": {"datum": 227.9, "axis": null}, "y": {"datum": 28.4, "axis": null}}},
        {"mark": {"type": "text", "text": "0.557", "align": "left", "baseline": "middle", "fontSize": 11, "dx": 154, "dy": -11}, "encoding": {"x": {"datum": 227.9, "axis": null}, "y": {"datum": 28.4, "axis": null}}},
        {"mark": {"type": "text", "text": "by Mie", "align": "left", "baseline": "middle", "fontSize": 16, "fontWeight": "bold"}, "encoding": {"x": {"datum": 227.9, "axis": null}, "y": {"datum": 16.65, "axis": null}}},
        {"mark": {"type": "text", "text": "DSD", "align": "left", "baseline": "middle", "fontSize": 11, "dx": 51, "dy": 5}, "encoding": {"x": {"datum": 227.9, "axis": null}, "y": {"datum": 16.65, "axis": null}}},

        {"mark": {"type": "text", "text": "(b)", "align": "left", "baseline": "middle", "fontSize": 15, "fontWeight": "bold"}, "encoding": {"x": {"datum": 10.43, "axis": null}, "y": {"datum": 20990, "axis": null}}},
        {"mark": {"type": "text", "text": "VIS", "align": "left", "baseline": "middle", "fontSize": 16, "fontWeight": "bold", "fontStyle": "italic"}, "encoding": {"x": {"datum": 10.43, "axis": null}, "y": {"datum": 12320, "axis": null}}},
        {"mark": {"type": "text", "text": "obs", "align": "left", "baseline": "middle", "fontSize": 11, "fontWeight": "bold", "dx": 26, "dy": 5}, "encoding": {"x": {"datum": 10.43, "axis": null}, "y": {"datum": 12320, "axis": null}}},
        {"mark": {"type": "text", "text": "<100 m", "align": "left", "baseline": "middle", "fontSize": 16, "fontWeight": "bold", "dx": 46}, "encoding": {"x": {"datum": 10.43, "axis": null}, "y": {"datum": 12320, "axis": null}}},
        {"mark": {"type": "text", "text": "Slope:", "align": "left", "baseline": "middle", "fontSize": 16, "fontWeight": "bold"}, "encoding": {"x": {"datum": 10.43, "axis": null}, "y": {"datum": 7400, "axis": null}}},
        {"mark": {"type": "text", "text": "1.33,", "align": "left", "baseline": "middle", "fontSize": 16, "fontWeight": "bold", "color": "#1a3fb8", "dx": 53}, "encoding": {"x": {"datum": 10.43, "axis": null}, "y": {"datum": 7400, "axis": null}}},
        {"mark": {"type": "text", "text": "1.16,", "align": "left", "baseline": "middle", "fontSize": 16, "fontWeight": "bold", "color": "#1b8a1b", "dx": 93}, "encoding": {"x": {"datum": 10.43, "axis": null}, "y": {"datum": 7400, "axis": null}}},
        {"mark": {"type": "text", "text": "1.21", "align": "left", "baseline": "middle", "fontSize": 16, "fontWeight": "bold", "color": "#c47a00", "dx": 133}, "encoding": {"x": {"datum": 10.43, "axis": null}, "y": {"datum": 7400, "axis": null}}},
        {"mark": {"type": "text", "text": "VIS", "align": "left", "baseline": "middle", "fontSize": 16, "fontWeight": "bold", "fontStyle": "italic"}, "encoding": {"x": {"datum": 10.43, "axis": null}, "y": {"datum": 2928, "axis": null}}},
        {"mark": {"type": "text", "text": "obs", "align": "left", "baseline": "middle", "fontSize": 11, "fontWeight": "bold", "dx": 26, "dy": 5}, "encoding": {"x": {"datum": 10.43, "axis": null}, "y": {"datum": 2928, "axis": null}}},
        {"mark": {"type": "text", "text": ">100 m", "align": "left", "baseline": "middle", "fontSize": 16, "fontWeight": "bold", "dx": 46}, "encoding": {"x": {"datum": 10.43, "axis": null}, "y": {"datum": 2928, "axis": null}}},
        {"mark": {"type": "text", "text": "Slope:", "align": "left", "baseline": "middle", "fontSize": 16, "fontWeight": "bold"}, "encoding": {"x": {"datum": 10.43, "axis": null}, "y": {"datum": 1841, "axis": null}}},
        {"mark": {"type": "text", "text": "7.51,", "align": "left", "baseline": "middle", "fontSize": 16, "fontWeight": "bold", "color": "#1a3fb8", "dx": 53}, "encoding": {"x": {"datum": 10.43, "axis": null}, "y": {"datum": 1841, "axis": null}}},
        {"mark": {"type": "text", "text": "11.46,", "align": "left", "baseline": "middle", "fontSize": 16, "fontWeight": "bold", "color": "#1b8a1b", "dx": 93}, "encoding": {"x": {"datum": 10.43, "axis": null}, "y": {"datum": 1841, "axis": null}}},
        {"mark": {"type": "text", "text": "10.78", "align": "left", "baseline": "middle", "fontSize": 16, "fontWeight": "bold", "color": "#c47a00", "dx": 142}, "encoding": {"x": {"datum": 10.43, "axis": null}, "y": {"datum": 1841, "axis": null}}},
        {"mark": {"type": "text", "text": "1:1", "align": "left", "baseline": "middle", "fontSize": 16, "fontWeight": "bold", "color": "#8a8a8a"}, "encoding": {"x": {"datum": 1652, "axis": null}, "y": {"datum": 1159, "axis": null}}},

        {"mark": {"type": "text", "text": "VIS", "align": "left", "baseline": "middle", "fontSize": 16, "fontWeight": "bold", "fontStyle": "italic"}, "encoding": {"x": {"datum": 83.4, "axis": null}, "y": {"datum": 2.606, "axis": null}}},
        {"mark": {"type": "text", "text": "obs", "align": "left", "baseline": "middle", "fontSize": 11, "fontWeight": "bold", "dx": 25, "dy": 5}, "encoding": {"x": {"datum": 83.4, "axis": null}, "y": {"datum": 2.606, "axis": null}}},
        {"mark": {"type": "text", "text": "(m)", "align": "left", "baseline": "middle", "fontSize": 16, "fontWeight": "bold", "dx": 54}, "encoding": {"x": {"datum": 83.4, "axis": null}, "y": {"datum": 2.606, "axis": null}}},
        {"mark": {"type": "text", "text": "VIS", "align": "left", "baseline": "middle", "angle": 270, "fontSize": 16, "fontWeight": "bold", "fontStyle": "italic"}, "encoding": {"x": {"datum": 2.888, "axis": null}, "y": {"datum": 213, "axis": null}}},
        {"mark": {"type": "text", "text": "cal", "align": "left", "baseline": "middle", "angle": 270, "fontSize": 11, "fontWeight": "bold", "dx": 26, "dy": 4}, "encoding": {"x": {"datum": 2.888, "axis": null}, "y": {"datum": 213, "axis": null}}},
        {"mark": {"type": "text", "text": "(m)", "align": "left", "baseline": "middle", "angle": 270, "fontSize": 16, "fontWeight": "bold", "dx": 45}, "encoding": {"x": {"datum": 2.888, "axis": null}, "y": {"datum": 213, "axis": null}}}
      ]
    }
  ]
}
